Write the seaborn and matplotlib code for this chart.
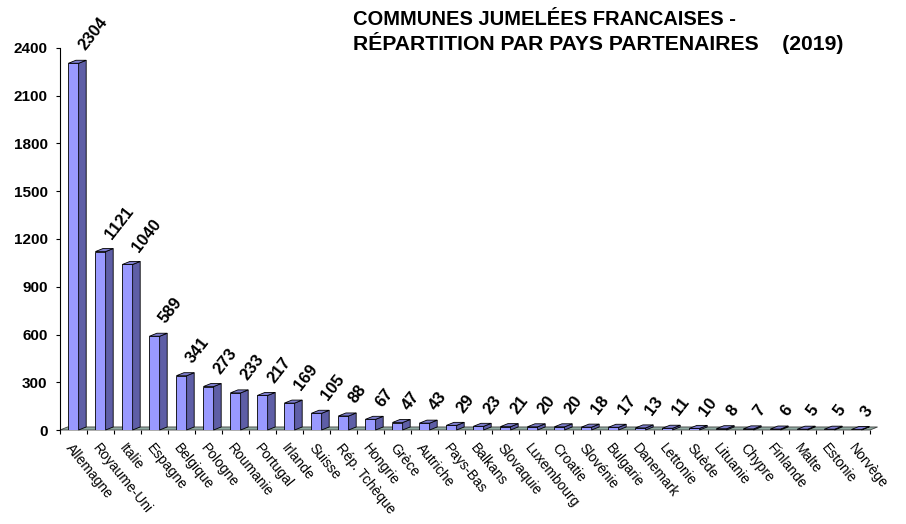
import matplotlib
matplotlib.use("Agg")
import matplotlib.pyplot as plt
import seaborn as sns
import numpy as np
from matplotlib.patches import Polygon
from matplotlib.ticker import FixedLocator

countries = ["Allemagne", "Royaume-Uni", "Italie", "Espagne", "Belgique", "Pologne",
             "Roumanie", "Portugal", "Irlande", "Suisse", "Rép. Tchèque", "Hongrie",
             "Grèce", "Autriche", "Pays-Bas", "Balkans", "Slovaquie", "Luxembourg",
             "Croatie", "Slovénie", "Bulgarie", "Danemark", "Lettonie", "Suède",
             "Lituanie", "Chypre", "Finlande", "Malte", "Estonie", "Norvège"]
values = [2304, 1121, 1040, 589, 341, 273, 233, 217, 169, 105, 88, 67, 47, 43, 29,
          23, 21, 20, 20, 18, 17, 13, 11, 10, 8, 7, 6, 5, 5, 3]
yticks = [0, 300, 600, 900, 1200, 1500, 1800, 2100, 2400]
title_line1 = "COMMUNES JUMELÉES FRANCAISES -"
title_line2 = "RÉPARTITION PAR PAYS PARTENAIRES    (2019)"

sns.set_style("white")
plt.rcParams['font.family'] = ['Liberation Sans', 'DejaVu Sans']
plt.rcParams['text.color'] = 'black'
plt.rcParams['xtick.color'] = 'black'
plt.rcParams['ytick.color'] = 'black'
plt.rcParams['axes.labelcolor'] = 'black'

front_c = "#9999FF"
side_c = "#5E5EA6"
top_c = "#7C7CCC"
floor_c = "#8FAAA2"

fig = plt.figure(figsize=(9.06, 5.24), dpi=100)
ax = fig.add_axes([60/906, 1-430/524, 810/906, 382/524])

sns.barplot(x=countries, y=values, color=front_c, width=0.38, saturation=1,
            edgecolor="black", linewidth=0.6, ax=ax, zorder=3)

n = len(countries)
ax.set_xlim(-0.5, n - 0.5)
ax.set_ylim(0, 2400)

dx = 0.28
dy = 19

# floor
floor = Polygon([(-0.5, 0), (n - 0.5, 0), (n - 0.5 + dx, dy), (-0.5 + dx, dy)],
                closed=True, facecolor=floor_c, edgecolor="#404040", linewidth=0.6,
                zorder=1, clip_on=False)
ax.add_patch(floor)

for p in list(ax.patches):
    if p is floor:
        continue
    x0 = p.get_x(); w = p.get_width(); h = p.get_height()
    x1 = x0 + w
    side = Polygon([(x1, 0), (x1, h), (x1 + dx, h + dy), (x1 + dx, dy)], closed=True,
                   facecolor=side_c, edgecolor="black", linewidth=0.6, zorder=3,
                   clip_on=False)
    top = Polygon([(x0, h), (x1, h), (x1 + dx, h + dy), (x0 + dx, h + dy)], closed=True,
                  facecolor=top_c, edgecolor="black", linewidth=0.6, zorder=3,
                  clip_on=False)
    ax.add_patch(side)
    ax.add_patch(top)

# value labels
for i, v in enumerate(values):
    ax.annotate(str(v), xy=(i, v + dy), xytext=(10, 5), textcoords="offset points",
                rotation=52, rotation_mode="anchor", ha="left", va="bottom",
                fontsize=12, fontweight="bold", annotation_clip=False, zorder=5)

# axes styling
for s in ["top", "right", "bottom"]:
    ax.spines[s].set_visible(False)
ax.spines["left"].set_color("black")
ax.spines["left"].set_linewidth(0.8)
ax.set_yticks(yticks)
ax.set_yticklabels([str(t) for t in yticks], fontsize=11, fontweight="bold")
ax.tick_params(axis="y", direction="out", length=3, width=0.8, pad=6, left=True)

ax.set_xticks(range(n))
ax.set_xticklabels(countries, rotation=-51, ha="left", va="top",
                   rotation_mode="anchor", fontsize=10)
ax.tick_params(axis="x", which="major", length=0, pad=8)
ax.xaxis.set_minor_locator(FixedLocator(np.arange(-0.5, n + 0.5, 1)))
ax.tick_params(axis="x", which="minor", direction="out", length=3, width=0.8,
               bottom=True, color="black")
ax.set_xlabel("")
ax.set_ylabel("")
ax.grid(False)

fig.text(353/906, 1-25/524, title_line1, ha="left", va="baseline", fontsize=14.5,
         fontweight="bold")
fig.text(353/906, 1-50/524, title_line2, ha="left", va="baseline", fontsize=15.2,
         fontweight="bold")

fig.savefig("out.png", dpi=100)
